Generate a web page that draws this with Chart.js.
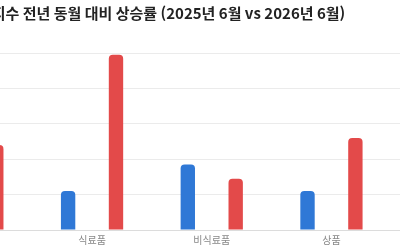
<!DOCTYPE html>
<html lang="ko">
<head>
<meta charset="utf-8">
<script src="https://cdn.jsdelivr.net/npm/chart.js@4.4.1/dist/chart.umd.min.js"></script>
<style>
  html, body { margin: 0; padding: 0; background: #ffffff; overflow: hidden; }
  body { width: 400px; height: 250px; position: relative; }
  /* el gráfico original está recortado: el lienzo sobresale por ambos lados */
  .chart-box { position: absolute; left: -100px; top: 0; width: 620px; height: 250px; }
</style>
</head>
<body>
<div class="chart-box"><canvas id="chart"></canvas></div>
<script>
const categorias = ['총지수', '식료품', '비식료품', '상품', '서비스'];
const serie2025 = [1.9, 1.1, 1.85, 1.1, 2.1];
const serie2026 = [2.4, 4.95, 1.45, 2.6, 2.3];
const etiquetas = ['2025년 6월', '2026년 6월'];
const titulo = '   소비자물가지수 전년 동월 대비 상승률 (2025년 6월 vs 2026년 6월)';

const ctx = document.getElementById('chart');
new Chart(ctx, {
    type: 'bar',
    data: {
        labels: categorias,
        datasets: [{
            label: etiquetas[0],
            data: serie2025,
            backgroundColor: '#2f78d6',
            borderRadius: 4,
            borderSkipped: 'bottom',
            barPercentage: 0.3,
            categoryPercentage: 0.8
        }, {
            label: etiquetas[1],
            data: serie2026,
            backgroundColor: '#e34a4a',
            borderRadius: 4,
            borderSkipped: 'bottom',
            barPercentage: 0.3,
            categoryPercentage: 0.8
        }]
    },
    options: {
        responsive: true,
        maintainAspectRatio: false,
        animation: false,
        layout: { padding: { left: 12.5, right: 9, bottom: 0 } },
        scales: {
            x: {
                grid: { display: false, drawTicks: false },
                border: { color: '#dcdcdc' },
                ticks: { color: '#888', padding: 4, font: { family: 'Noto Sans CJK KR', size: 10 } }
            },
            y: {
                min: 0,
                max: 5,
                ticks: { display: false, stepSize: 1 },
                grid: { color: '#ebebeb', drawTicks: false },
                border: { display: false }
            }
        },
        plugins: {
            legend: { display: false },
            tooltip: { enabled: false },
            title: {
                display: true,
                text: titulo,
                align: 'start',
                color: '#222',
                padding: { top: 4, bottom: 31 },
                font: { family: 'Noto Sans CJK KR', size: 15, weight: 'bold' }
            }
        }
    }
});
</script>
</body>
</html>
